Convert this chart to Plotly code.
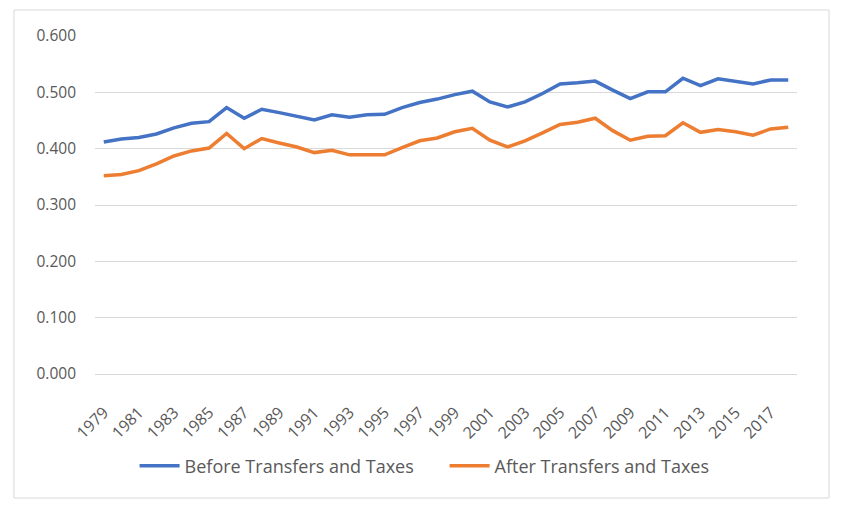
import plotly.graph_objects as go

years = [str(y) for y in range(1979, 2019)]

before_taxes = [
    0.412, 0.417, 0.420, 0.426, 0.437, 0.445, 0.448, 0.473, 0.454, 0.470,
    0.464, 0.457, 0.451, 0.460, 0.456, 0.460, 0.461, 0.473, 0.482, 0.488,
    0.496, 0.502, 0.483, 0.474, 0.483, 0.498, 0.515, 0.517, 0.520, 0.504,
    0.489, 0.501, 0.501, 0.525, 0.512, 0.524, 0.520, 0.515, 0.522, 0.522,
]
after_taxes = [
    0.352, 0.354, 0.361, 0.373, 0.387, 0.396, 0.401, 0.427, 0.400, 0.418,
    0.410, 0.403, 0.393, 0.397, 0.389, 0.389, 0.389, 0.402, 0.414, 0.419,
    0.430, 0.436, 0.415, 0.403, 0.414, 0.428, 0.443, 0.447, 0.454, 0.432,
    0.415, 0.422, 0.423, 0.446, 0.429, 0.434, 0.430, 0.424, 0.435, 0.438,
]
tick_years = years[::2]
y_ticks = [0.0, 0.1, 0.2, 0.3, 0.4, 0.5, 0.6]

FONT = "Open Sans"
GREY = "#595959"

fig = go.Figure()
fig.add_trace(go.Scatter(x=years, y=before_taxes, mode="lines",
                         name="Before Transfers and Taxes",
                         line=dict(color="#4472C4", width=3.5)))
fig.add_trace(go.Scatter(x=years, y=after_taxes, mode="lines",
                         name="After Transfers and Taxes",
                         line=dict(color="#ED7D31", width=3.5)))

# outer chart border (Excel style)
fig.add_shape(type="rect", xref="paper", yref="paper",
              x0=-0.1154, x1=1.0456, y0=-0.367, y1=1.077,
              line=dict(color="#D9D9D9", width=1))

# page body adds ~8px offset, so margins are shifted up/left
fig.update_layout(
    width=842, height=514,
    margin=dict(l=87, r=53, t=28, b=148),
    paper_bgcolor="white", plot_bgcolor="white",
    font=dict(family=FONT, size=15, color=GREY),
    showlegend=True,
    legend=dict(orientation="h", x=0.498, xanchor="center",
                y=-0.272, yanchor="middle",
                font=dict(family=FONT, size=18, color=GREY),
                itemwidth=40, entrywidth=255),
    xaxis=dict(type="category", range=[-0.5, 39.5],
               tickmode="array", tickvals=tick_years, ticktext=tick_years,
               tickangle=-45, showgrid=False, showline=False, ticks="",
               ticklabelstandoff=25,
               tickfont=dict(family=FONT, size=16, color=GREY)),
    yaxis=dict(range=[0, 0.6], tickvals=y_ticks, tickformat=".3f",
               showgrid=True, gridcolor="#D9D9D9", gridwidth=1,
               zeroline=True, zerolinecolor="#D9D9D9", zerolinewidth=1,
               ticks="", ticklabelstandoff=18,
               tickfont=dict(family=FONT, size=15.5, color=GREY)),
)

fig.write_html("out.html")
